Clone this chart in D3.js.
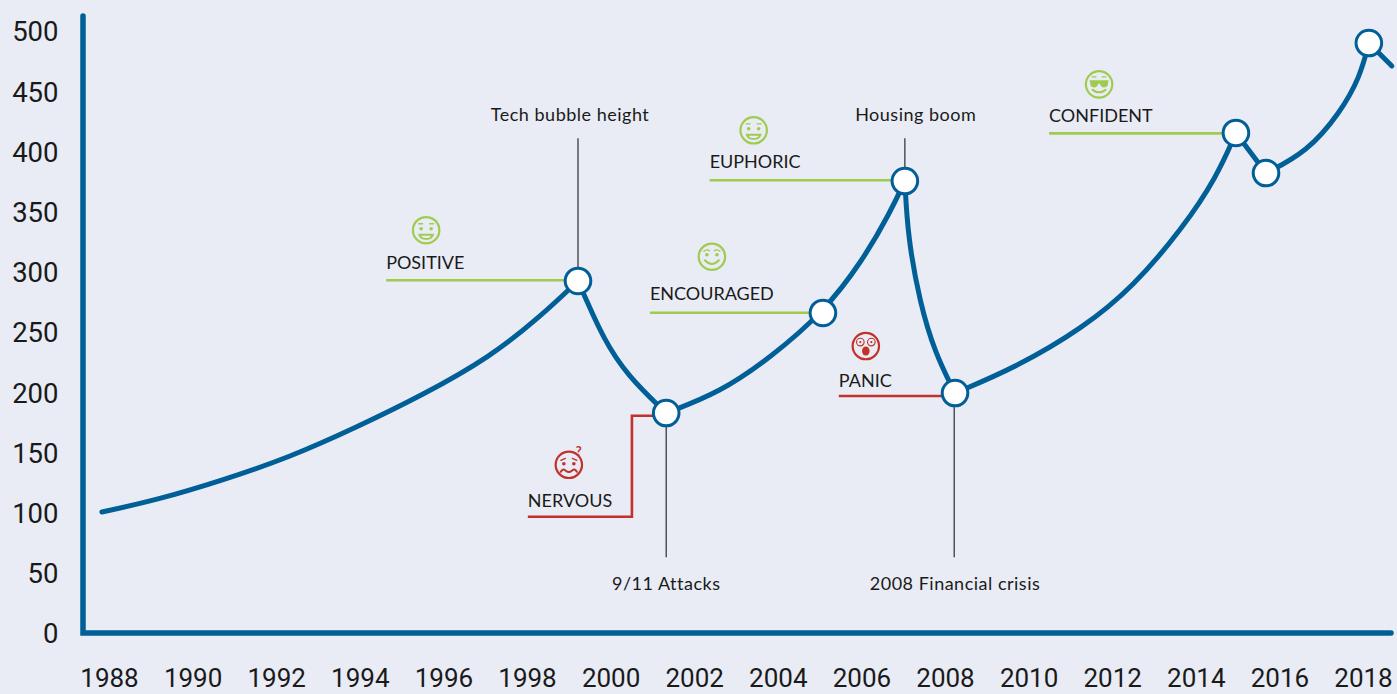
<!DOCTYPE html>
<html><head><meta charset="utf-8">
<script src="https://cdn.jsdelivr.net/npm/d3@7"></script>
<style>
html,body{margin:0;padding:0;background:#e9ecf5;overflow:hidden}
svg{display:block}
</style></head><body>
<svg id="c" width="1397" height="694"></svg>
<script>
const yearTicks = d3.range(1988, 2019, 2);
const valueTicks = d3.range(0, 501, 50);

const riseTo1999 = [[1987.83,100.5],[1989.15,110.5],[1990.73,127],[1992.33,146],[1993.93,171],[1995.51,197.7],[1997.11,229],[1998.31,262.5],[1999.22,292.4]];
const fallTo2001 = [[1999.22,292.4],[1999.39,279],[1999.82,245],[2000.39,214],[2001.33,182.7]];
const riseTo2007 = [[2001.33,182.7],[2002.62,200],[2003.81,228.4],[2005.08,265.8],[2006.04,309.8],[2006.68,348.8],[2007.04,375.4]];
const fallTo2008 = [[2007.04,375.4],[2007.11,329],[2007.4,274],[2007.76,232.6],[2008.24,199.3]];
const riseTo2015 = [[2008.24,199.3],[2009.72,221],[2011.3,253.3],[2012.5,287.4],[2013.69,336.4],[2014.5,378.7],[2014.96,415.3]];
const dipTo2016 = [[2014.96,415.3],[2015.68,382]];
const riseTo2018 = [[2015.68,382],[2016.66,399.5],[2017.45,431.9],[2017.93,461.8],[2018.14,490]];
const dropAfter2018 = [[2018.14,490],[2018.69,471]];
const segments = [riseTo1999,fallTo2001,riseTo2007,fallTo2008,riseTo2015,dipTo2016,riseTo2018,dropAfter2018];

const markers = [[1999.22,292.4],[2001.33,182.7],[2005.08,265.8],[2007.04,375.4],[2008.24,199.3],[2014.96,415.3],[2015.68,382],[2018.14,490]];

const moodNames = ["POSITIVE","ENCOURAGED","EUPHORIC","CONFIDENT","PANIC"];
const moodStartYears = [1994.63,2000.94,2002.37,2010.49,2005.46];
const moodEndYears = [1999.22,2005.08,2007.04,2014.96,2008.24];
const moodValues = [293,266,376,415,196.8];
const moodColors = ["#9fcb4f","#9fcb4f","#9fcb4f","#9fcb4f","#c2312a"];
const moodFaces = ["grin","smile","grin","shades","shock"];
const moodOffsets = [[40,-39,11],[62,-43,13],[44,-38,12],[50,-38,11],[27,-41,9]];

const eventNames = ["Tech bubble height","Housing boom","9/11 Attacks","2008 Financial crisis"];
const eventYears = [1999.22,2007.04,2001.33,2008.22];
const eventFrom = [292.4,375.4,182.7,199.3];
const eventTo = [411,411,63,63];
const eventLabelYears = [1999.03,2007.3,2001.33,2008.24];
const eventLabelValues = [425,425,36,36];

const BLUE = "#005f96", RED = "#c2312a", INK = "#1a1a1a";
const FONT = "Lato, sans-serif", NUM = "Roboto, sans-serif";

const svg = d3.select("#c");
const x = d3.scaleLinear().domain([1988,2018]).range([109,1363]);
const y = d3.scaleLinear().domain([0,500]).range([633,31]);

// axes
const gy = svg.append("g").attr("transform","translate(58.5,1)")
  .call(d3.axisLeft(y).tickValues(valueTicks).tickSize(0).tickPadding(0).tickFormat(d3.format("d")));
const gx = svg.append("g").attr("transform","translate(0,669)")
  .call(d3.axisBottom(x).tickValues(yearTicks).tickSize(0).tickPadding(0).tickFormat(d3.format("d")));
[gy,gx].forEach(g=>{
  g.select(".domain").remove();
  g.selectAll("text").attr("fill",INK).style("font-family",NUM).style("font-weight",400);
});
gy.selectAll("text").style("font-size","27.5px");
gx.selectAll("text").style("font-size","26px").attr("dy","0.71em").attr("y",0);

svg.append("path")
  .attr("d",d3.line()([[83,16],[83,633],[1391,633]]))
  .attr("fill","none").attr("stroke",BLUE).attr("stroke-width",5.5)
  .attr("stroke-linecap","round").attr("stroke-linejoin","miter");

// event lines
eventNames.forEach((n,i)=>{
  svg.append("line").attr("x1",x(eventYears[i])).attr("x2",x(eventYears[i]))
    .attr("y1",y(eventFrom[i])).attr("y2",y(eventTo[i]))
    .attr("stroke","#2b2b2b").attr("stroke-width",1.2);
  svg.append("text").attr("x",x(eventLabelYears[i])).attr("y",y(eventLabelValues[i]))
    .attr("text-anchor","middle").attr("fill",INK)
    .style("font-family",FONT).style("font-size","18px").style("letter-spacing","0.5px").text(n);
});

// mood connectors
const moodG = svg.append("g");
moodNames.forEach((n,i)=>{
  const x0 = x(moodStartYears[i]), yy = y(moodValues[i]);
  moodG.append("line").attr("x1",x0).attr("x2",x(moodEndYears[i])).attr("y1",yy).attr("y2",yy)
    .attr("stroke",moodColors[i]).attr("stroke-width",2.6);
  moodG.append("text").attr("x",x0).attr("y",yy-moodOffsets[i][2]).attr("fill",INK)
    .style("font-family",FONT).style("font-size","18px").text(n);
  drawFace(x0+moodOffsets[i][0], yy+moodOffsets[i][1]-moodOffsets[i][2], moodFaces[i], moodColors[i]);
});
// nervous: stepped connector
const nervousStart = 1998.02, nervousBase = 96.5, nervousStep = 2000.51;
svg.append("path").attr("d",d3.line()([
  [x(nervousStart),y(nervousBase)],[x(nervousStep),y(nervousBase)],[x(nervousStep),y(180.5)],[x(2001.33),y(180.5)]
])).attr("fill","none").attr("stroke",RED).attr("stroke-width",2.6);
svg.append("text").attr("x",x(nervousStart)).attr("y",y(nervousBase)-10).attr("fill",INK)
  .style("font-family",FONT).style("font-size","18px").text("NERVOUS");
drawFace(x(nervousStart)+41,y(nervousBase)-52,"nervous",RED);

// curve
const line = d3.line().x(d=>x(d[0])).y(d=>y(d[1])).curve(d3.curveBasis);
svg.append("g").selectAll("path").data(segments).join("path")
  .attr("d",line).attr("fill","none").attr("stroke",BLUE).attr("stroke-width",5)
  .attr("stroke-linecap","round");

svg.append("g").selectAll("circle").data(markers).join("circle")
  .attr("cx",d=>x(d[0])).attr("cy",d=>y(d[1])).attr("r",12.8)
  .attr("fill","#fff").attr("stroke",BLUE).attr("stroke-width",3);

function drawFace(cx,cy,kind,col){
  const g = svg.append("g").attr("transform",`translate(${cx},${cy})`).attr("fill","none").attr("stroke",col).attr("stroke-width",2.2).attr("stroke-linecap","round");
  g.append("circle").attr("r",13.2);
  const dot=(a,b,r=1.8)=>g.append("circle").attr("cx",a).attr("cy",b).attr("r",r).attr("fill",col).attr("stroke","none");
  const p=(d,w=1.5)=>g.append("path").attr("d",d).attr("stroke-width",w);
  if(kind==="grin"){
    dot(-5,-1.5);dot(5,-1.5);
    p("M-7.5,-6.5H-3.5M3.5,-6.5H7.5",1.3);
    g.append("path").attr("d","M-8,3.5H8C7,8.5 3.5,9.5 0,9.5C-3.5,9.5 -7,8.5 -8,3.5Z").attr("fill",col).attr("stroke","none");
    g.append("path").attr("d","M-5,5.5H5C4,7.5 2,7.8 0,7.8C-2,7.8 -4,7.5 -5,5.5Z").attr("fill","#e9ecf5").attr("stroke","none");
  } else if(kind==="smile"){
    dot(-5,-2);dot(5,-2);
    p("M-8,-5.5Q-5,-8 -2.5,-6M2.5,-6Q5,-8 8,-5.5",1.3);
    p("M-7,3.5Q0,11 7,3.5",2);
  } else if(kind==="shades"){
    g.append("path").attr("d","M-9.5,-4H9.5L8.5,1.5Q7,3.5 3.5,3Q1.2,2 0.8,-0.6H-0.8Q-1.2,2 -3.5,3Q-7,3.5 -8.5,1.5Z").attr("fill",col).attr("stroke","none");
    p("M-7,-7.5H-3M3,-7.5H7",1.2);
    p("M-6.5,5.5Q0,10.5 6.5,5.5",2);
  } else if(kind==="shock"){
    [-5.5,5.5].forEach(a=>{g.append("circle").attr("cx",a).attr("cy",-4).attr("r",3.8).attr("stroke-width",1.1);dot(a,-4,1.1);});
    g.append("ellipse").attr("cx",0).attr("cy",5).attr("rx",3.8).attr("ry",4.5).attr("fill",col).attr("stroke","none");
  } else {
    dot(-5,-1);dot(5,-1);
    p("M-8,-4.5L-3.5,-6.5M3.5,-6.5L8,-4.5",1.3);
    p("M-8,7Q-5.5,3 -3,6Q0,8.5 3,6Q5.5,3 8,7",2);
    g.append("text").attr("x",7).attr("y",-9).attr("fill",col).attr("stroke","none")
      .style("font-family",FONT).style("font-size","13px").style("font-weight",700).text("?");
  }
}
</script>
</body></html>
